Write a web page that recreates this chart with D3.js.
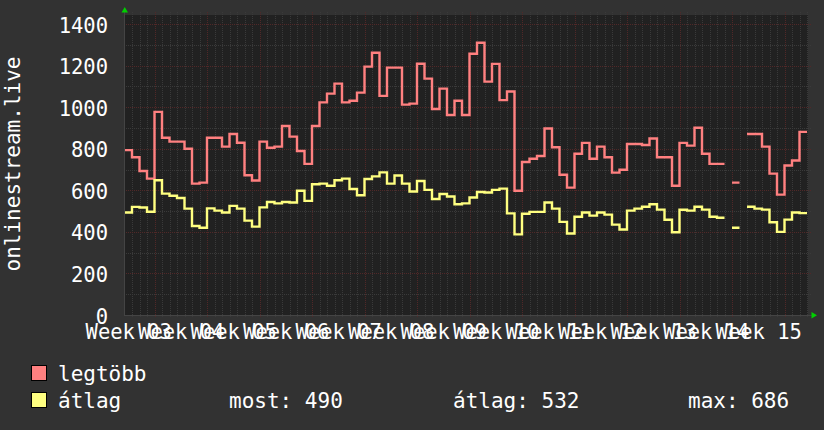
<!DOCTYPE html>
<html><head><meta charset="utf-8">
<script src="https://cdn.jsdelivr.net/npm/d3@7"></script>
<style>
html,body{margin:0;padding:0;background:#323232;}
svg{display:block;}
text{font-family:"DejaVu Sans Mono",monospace;fill:#ffffff;}
</style></head>
<body>
<svg id="chart" width="824" height="430"></svg>
<script>
// ---- data (one value per day, 91 days) ----
const legtobb = [793,759,693,656,977,853,834,834,800,632,637,853,853,810,871,829,672,647,
  834,805,810,909,858,789,727,909,1023,1065,1113,1023,1031,1070,1195,1262,1054,1190,
  1190,1012,1017,1209,1137,991,1089,962,1031,962,1257,1310,1123,1208,1034,1075,598,736,752,
  765,897,807,675,613,776,828,752,810,759,685,699,823,823,818,849,759,759,
  622,828,815,901,776,727,727,null,637,null,871,871,810,680,579,719,743,881];
const atlag = [493,520,517,497,648,584,574,563,512,428,420,513,502,493,525,512,454,425,
  518,544,537,544,541,598,549,629,632,622,648,656,606,576,654,667,686,632,
  671,632,594,645,602,558,582,570,533,537,565,592,589,602,608,489,388,487,496,
  496,541,512,448,392,473,493,478,493,483,435,411,502,512,521,533,507,458,
  398,506,502,521,507,473,468,null,420,null,521,512,507,446,400,459,493,490];
const weekLabels = ["Week 03","Week 04","Week 05","Week 06","Week 07","Week 08","Week 09",
  "Week 10","Week 11","Week 12","Week 13","Week 14","Week 15"];
const yTicks = [0,200,400,600,800,1000,1200,1400];
const seriesNames = ["legtöbb","átlag"];
const seriesColors = ["#ff8080","#ffff80"];
const statLabels = ["most: 490","átlag: 532","max: 686"];

// ---- layout ----
const svg = d3.select("#chart");
const plotL = 124, plotR = 808, plotT = 15, plotB = 315;
const nDays = legtobb.length;
const x = d3.scaleLinear().domain([0, nDays]).range([124.5, 807]);
const y = d3.scaleLinear().domain([0, 1400]).range([315, 24]);

svg.append("rect").attr("width",824).attr("height",430).attr("fill","#323232");
svg.append("rect").attr("x",plotL).attr("y",plotT).attr("width",plotR-plotL).attr("height",plotB-plotT).attr("fill","#212121");

const grid = svg.append("g").attr("shape-rendering","crispEdges");
const minorCol = "#3a3a3a", majorCol = "#512828";
// vertical grid: each day, major each week (day index 4 mod 7)
d3.range(1, nDays+1).forEach(k => {
  const major = (k % 7) === 4;
  const xx = Math.round(x(k)) + 0.5;
  grid.append("line").attr("x1",xx).attr("x2",xx).attr("y1",plotT-3).attr("y2",plotB+3)
    .attr("stroke", major ? majorCol : minorCol).attr("stroke-dasharray","1,1");
});
// horizontal grid every 100, major every 200
d3.range(100, 1500, 100).forEach(v => {
  const major = v % 200 === 0;
  const yy = Math.round(y(v)) + 0.5;
  grid.append("line").attr("x1",plotL).attr("x2",plotR+3).attr("y1",yy).attr("y2",yy)
    .attr("stroke", major ? majorCol : minorCol).attr("stroke-dasharray","1,1");
});

// step lines
function stepPoints(vals){
  const pts = [];
  vals.forEach((v,k) => {
    if (v === null) { pts.push(null); return; }
    pts.push([k, v]); pts.push([k+1, v]);
  });
  return pts;
}
const line = d3.line().defined(d => d !== null).x(d => x(d[0])).y(d => y(d[1]));
[legtobb, atlag].forEach((vals,i) => {
  svg.append("path").datum(stepPoints(vals)).attr("d", line)
    .attr("fill","none").attr("stroke", seriesColors[i]).attr("stroke-width",2.4)
    .attr("stroke-linejoin","miter");
});

// axes lines + arrows
svg.append("line").attr("x1",plotL+0.5).attr("x2",plotL+0.5).attr("y1",plotB).attr("y2",11)
  .attr("stroke","#444").attr("stroke-width",1);
svg.append("line").attr("x1",plotL).attr("x2",812).attr("y1",plotB+0.5).attr("y2",plotB+0.5)
  .attr("stroke","#444").attr("stroke-width",1);
svg.append("path").attr("d","M121.5,12.5L128,12.5L124.75,7Z").attr("fill","#00d000");
svg.append("path").attr("d","M811.5,312L811.5,318.5L817,315.25Z").attr("fill","#00d000");

// y axis labels
const yAxis = d3.axisLeft(y).tickValues(yTicks).tickSize(0).tickPadding(16).tickFormat(d3.format("d"));
const gy = svg.append("g").attr("transform",`translate(${plotL},0)`).call(yAxis);
gy.select(".domain").remove();
gy.selectAll("text").attr("font-size","20.5px").attr("dy","0.39em").style("font-family","DejaVu Sans Mono").attr("fill","#fff");

// x axis labels (centered mid-week; overlapping like the original)
const labelPos = weekLabels.map((_,j) => 0.5 + 7*j);
const xAxis = d3.axisBottom(x).tickValues(labelPos).tickSize(0).tickPadding(9)
  .tickFormat((d,j) => weekLabels[j]);
const gx = svg.append("g").attr("transform",`translate(0,${plotB})`).call(xAxis);
gx.select(".domain").remove();
gx.selectAll("text").attr("font-size","20.5px").style("font-family","DejaVu Sans Mono").attr("fill","#fff");

// y title
svg.append("text").attr("transform","translate(20,164) rotate(-90)")
  .attr("text-anchor","middle").attr("font-size","21px").text("onlinestream.live");

// legend
const legRows = [381, 408];
seriesNames.forEach((n,i) => {
  svg.append("rect").attr("x",31.5).attr("y",legRows[i]-15.5).attr("width",15).attr("height",15)
    .attr("fill",seriesColors[i]).attr("stroke","#000").attr("stroke-width",1);
  svg.append("text").attr("x",58).attr("y",legRows[i]).attr("font-size","21px").text(n);
});
[229, 453, 688].forEach((xx,i) => {
  svg.append("text").attr("x",xx).attr("y",legRows[1]).attr("font-size","21px").text(statLabels[i]);
});
</script>
</body></html>
